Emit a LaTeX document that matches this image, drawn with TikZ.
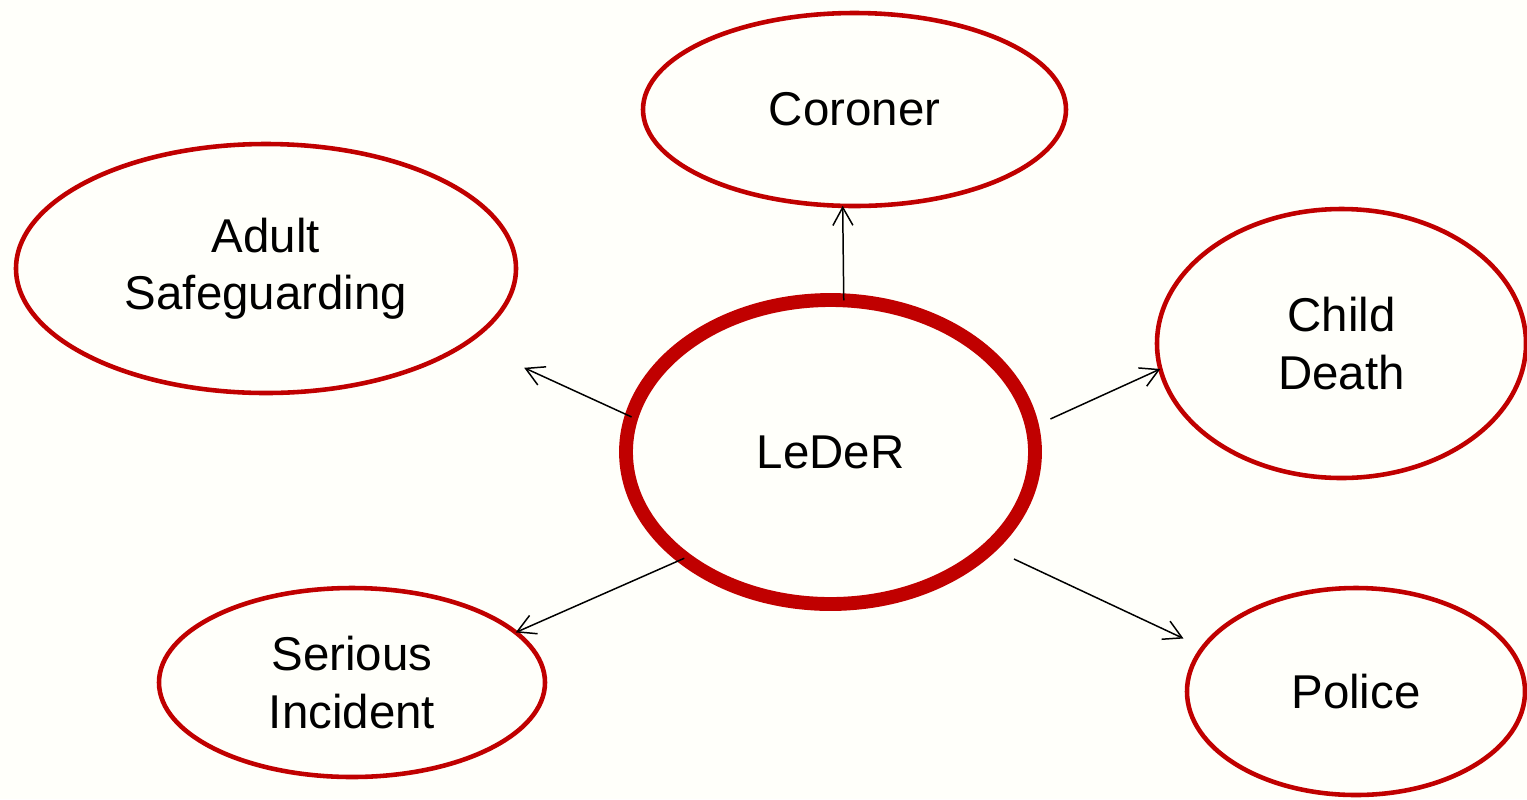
\documentclass[tikz,border=0pt]{standalone}
\usepackage{fontspec}
\setmainfont{Liberation Sans}
\usetikzlibrary{shapes.geometric,arrows.meta}
\definecolor{darkred}{RGB}{192,0,0}
\definecolor{paper}{RGB}{255,255,250}

\begin{document}
\begin{tikzpicture}[
  agency/.style={draw=darkred, line width=2.6pt, ellipse, fill=paper, inner sep=0pt, outer sep=0pt,
    align=center, font=\fontsize{27}{32.5}\selectfont},
  link/.style={line width=0.85pt, -{Straight Barb[length=3.6mm,width=4mm]}}]
  \fill[paper] (0,0) rectangle (30.54,-15.98);
  \useasboundingbox (0,0) rectangle (30.54,-15.98);

  \node [agency, minimum width=8.46cm, minimum height=3.86cm] (coroner) at (17.09,-2.19) {Coroner};
  \node [agency, minimum width=10cm, minimum height=4.98cm] (adult) at (5.32,-5.37) {Adult\\Safeguarding};
  \node [agency, minimum width=7.38cm, minimum height=5.38cm] (child) at (26.83,-6.87) {Child\\Death};
  \node [agency, minimum width=7.72cm, minimum height=3.78cm] (serious) at (7.04,-13.65) {Serious\\Incident};
  \node [agency, minimum width=6.76cm, minimum height=4.14cm] (police) at (27.12,-13.83) {Police};
  \node [agency, line width=7.9pt, minimum width=8.18cm, minimum height=6.08cm] (leder) at (16.61,-9.04) {LeDeR};

  \draw[link] (leder.85.2) -- (coroner.-97.3);
  \draw[link, shorten >=1.24cm] (leder.170.6) -- (adult.-20.8);
  \draw[link, shorten <=0.4cm] (leder.7.3) -- (child.188.2);
  \draw[link] (leder.216.7) -- (serious.17.3);
  \draw[link, shorten <=0.54cm, shorten >=0.43cm] (leder.-31.4) -- (police.164.7);

\end{tikzpicture}
\end{document}
